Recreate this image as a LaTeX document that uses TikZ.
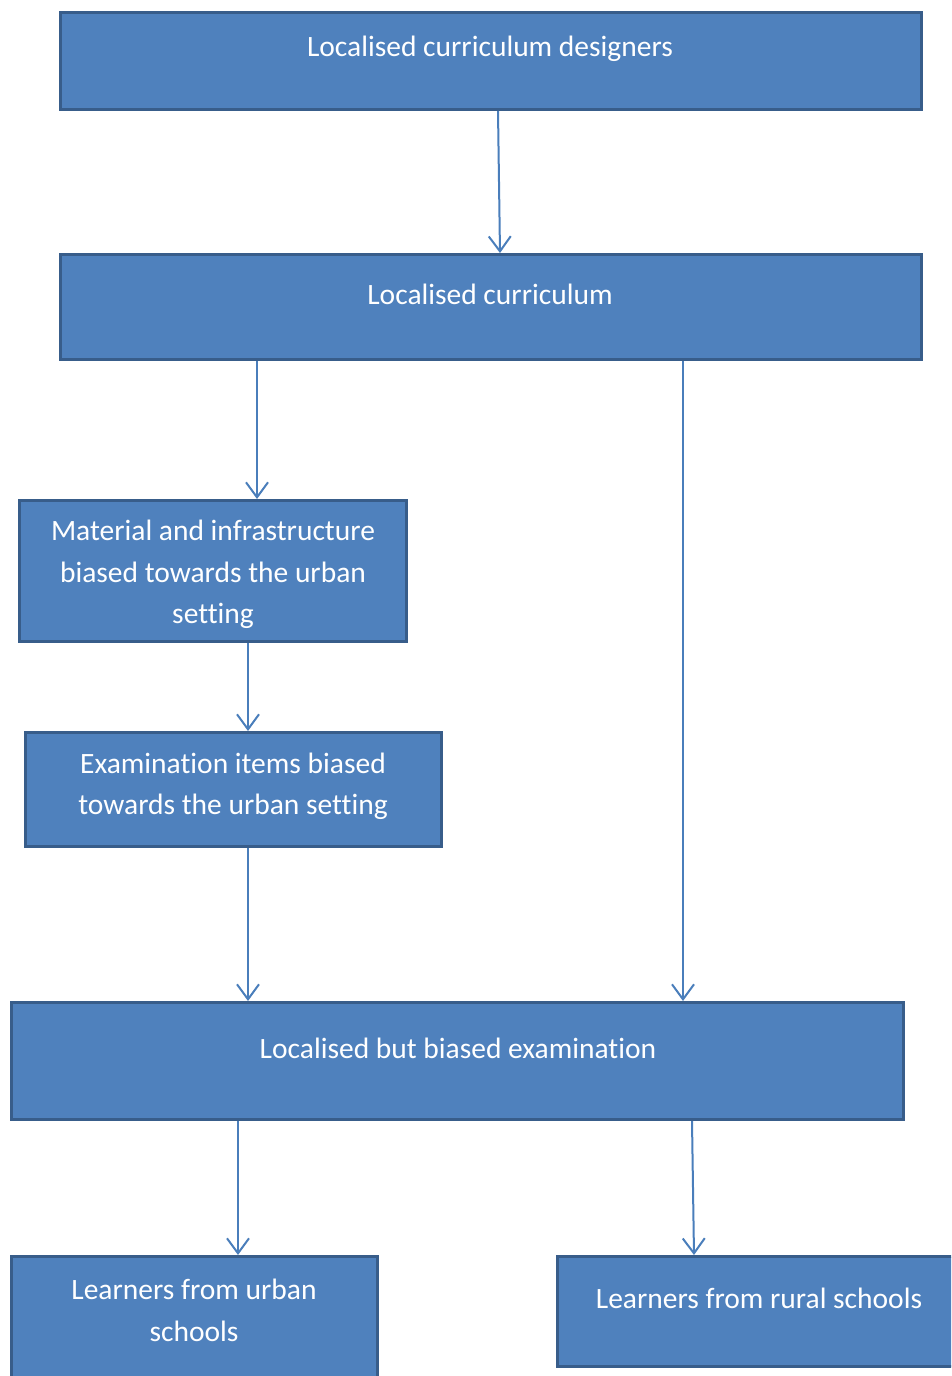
\documentclass[tikz,border=0pt]{standalone}
\usepackage{fontspec}
\setmainfont{Carlito}[Ligatures={NoCommon}]
\usetikzlibrary{arrows.meta}
\definecolor{boxfill}{HTML}{4F81BD}
\definecolor{boxline}{HTML}{385D8A}
\definecolor{arrowc}{HTML}{4A7EBB}
\begin{document}
\begin{tikzpicture}[x=1pt,y=-1pt,
  box/.style={draw=boxline,fill=boxfill,line width=3pt,inner sep=0pt},
  txt/.style={text=white,align=center,font=\fontsize{29.5}{41.5}\selectfont,inner sep=0pt},
  conn/.style={draw=arrowc,line width=2pt,-{Straight Barb[length=15pt,width=22pt,line width=2pt]}}]
\useasboundingbox (0,0) rectangle (951,1376);
\clip (0,0) rectangle (951,1376);
% boxes
\node[box,minimum width=861pt,minimum height=97pt,anchor=north west] (b1) at (59,11) {};
\node[box,minimum width=861pt,minimum height=105pt,anchor=north west] (b2) at (59,253) {};
\node[box,minimum width=387pt,minimum height=141pt,anchor=north west] (b3) at (18,499) {};
\node[box,minimum width=416pt,minimum height=114pt,anchor=north west] (b4) at (24,731) {};
\node[box,minimum width=892pt,minimum height=117pt,anchor=north west] (b5) at (10,1001) {};
\node[box,minimum width=366pt,minimum height=140pt,anchor=north west] (b6) at (10,1255) {};
\node[box,minimum width=420pt,minimum height=110pt,anchor=north west] (b7) at (556,1255) {};
% texts
\node[txt] (t1) at (490,48.5) {Localised curriculum designers};
\node[txt] (t2) at (490,294.5) {Localised curriculum};
\node[txt] (t3) at (213,574.5) {Material and infrastructure\\biased towards the urban\\setting};
\node[txt] (t4) at (233,786.5) {Examination items biased\\towards the urban setting};
\node[txt] (t5) at (458,1048.5) {Localised but biased examination};
\node[txt] (t6) at (194,1310.5) {Learners from urban\\schools};
\node[txt] (t7) at (759,1298.5) {Learners from rural schools};
% connectors
\draw[conn] (b1.south -| 498,0) -- (b2.north -| 500,0);
\draw[conn] (b2.south -| 257,0) -- (b3.north -| 257,0);
\draw[conn] (b3.south -| 248,0) -- (b4.north -| 248,0);
\draw[conn] (b4.south -| 248,0) -- (b5.north -| 248,0);
\draw[conn] (b2.south -| 683,0) -- (b5.north -| 683,0);
\draw[conn] (b5.south -| 238,0) -- (b6.north -| 238,0);
\draw[conn] (b5.south -| 692,0) -- (b7.north -| 694,0);
\end{tikzpicture}
\end{document}
